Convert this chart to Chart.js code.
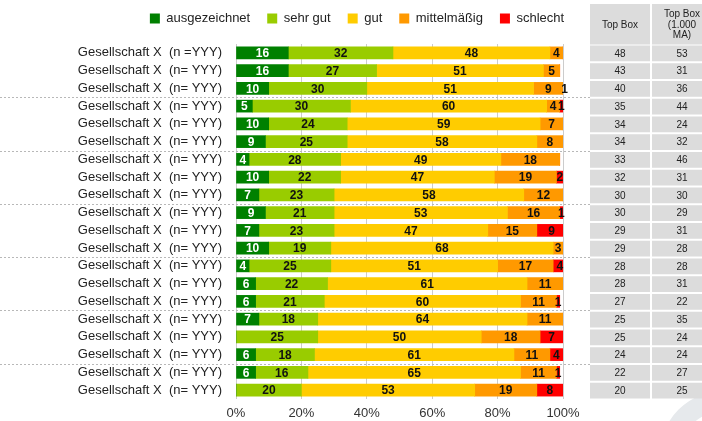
<!DOCTYPE html>
<html>
<head>
<meta charset="utf-8">
<script src="https://cdn.jsdelivr.net/npm/chart.js@4"></script>
<style>
  body { margin: 0; background: #fff; }
  #wrap { width: 702px; height: 421px; }
</style>
</head>
<body>
<div id="wrap"><canvas id="myChart"></canvas></div>
<script>
// Data
const categories = [
  "Gesellschaft X  (n =YYY)", "Gesellschaft X  (n= YYY)", "Gesellschaft X  (n= YYY)",
  "Gesellschaft X  (n= YYY)", "Gesellschaft X  (n= YYY)", "Gesellschaft X  (n= YYY)",
  "Gesellschaft X  (n= YYY)", "Gesellschaft X  (n= YYY)", "Gesellschaft X  (n= YYY)",
  "Gesellschaft X  (n= YYY)", "Gesellschaft X  (n= YYY)", "Gesellschaft X  (n= YYY)",
  "Gesellschaft X  (n= YYY)", "Gesellschaft X  (n= YYY)", "Gesellschaft X  (n= YYY)",
  "Gesellschaft X  (n= YYY)", "Gesellschaft X  (n= YYY)", "Gesellschaft X  (n= YYY)",
  "Gesellschaft X  (n= YYY)", "Gesellschaft X  (n= YYY)"
];
const seriesNames = ["ausgezeichnet", "sehr gut", "gut", "mittelmäßig", "schlecht"];
const ausgezeichnet = [16, 16, 10, 5, 10, 9, 4, 10, 7, 9, 7, 10, 4, 6, 6, 7, 0, 6, 6, 0];
const sehrGut = [32, 27, 30, 30, 24, 25, 28, 22, 23, 21, 23, 19, 25, 22, 21, 18, 25, 18, 16, 20];
const gut = [48, 51, 51, 60, 59, 58, 49, 47, 58, 53, 47, 68, 51, 61, 60, 64, 50, 61, 65, 53];
const mittelmaessig = [4, 5, 9, 4, 7, 8, 18, 19, 12, 16, 15, 3, 17, 11, 11, 11, 18, 11, 11, 19];
const schlecht = [0, 0, 1, 1, 0, 0, 0, 2, 0, 1, 9, 0, 4, 0, 1, 0, 7, 4, 1, 8];
const topBox = [48, 43, 40, 35, 34, 34, 33, 32, 30, 30, 29, 29, 28, 28, 27, 25, 25, 24, 22, 20];
const topBoxMA = [53, 31, 36, 44, 24, 32, 46, 31, 30, 29, 31, 28, 28, 31, 22, 35, 24, 24, 27, 25];
const tableHeaders = [["Top Box"], ["Top Box", "(1.000", "MA)"]];
const groupBreaks = [2, 5, 8, 11, 14, 17]; // dotted line below these rows

const colors = ["#008000", "#99cc00", "#ffcc00", "#ff9900", "#ff0000"];
const FONT = "'Liberation Sans', Arial, Helvetica, sans-serif";

const seriesValues = [ausgezeichnet, sehrGut, gut, mittelmaessig, schlecht];

// labels inside the bars
const barLabels = {
  id: "barLabels",
  afterDatasetsDraw(chart) {
    const ctx = chart.ctx;
    ctx.save();
    ctx.font = "bold 12px " + FONT;
    ctx.textAlign = "center";
    ctx.textBaseline = "middle";
    chart.data.datasets.forEach((ds, i) => {
      chart.getDatasetMeta(i).data.forEach((bar, j) => {
        const v = ds.data[j];
        if (!v) return;
        ctx.fillStyle = i === 0 ? "#ffffff" : "#111111";
        ctx.fillText(v, (bar.x + bar.base) / 2, bar.y + 1);
      });
    });
    ctx.restore();
  }
};

// dotted separators, side table and watermark
const sideTable = {
  id: "sideTable",
  beforeDraw(chart) {
    const ctx = chart.ctx;
    ctx.save();
    ctx.strokeStyle = "#e6e9ec";
    ctx.lineWidth = 20;
    ctx.beginPath();
    ctx.arc(721, 452, 50, Math.PI, Math.PI * 1.5);
    ctx.stroke();
    ctx.restore();
  },
  beforeDatasetsDraw(chart) {
    const ctx = chart.ctx;
    const y = chart.scales.y;
    const half = (y.getPixelForValue(1) - y.getPixelForValue(0)) / 2;
    ctx.save();
    ctx.strokeStyle = "#b8b8b8";
    ctx.lineWidth = 1;
    ctx.setLineDash([2, 2]);
    groupBreaks.forEach(i => {
      const py = Math.round(y.getPixelForValue(i) + half) + 0.5;
      ctx.beginPath();
      ctx.moveTo(0, py);
      ctx.lineTo(592, py);
      ctx.stroke();
    });
    ctx.restore();
  },
  afterDraw(chart) {
    const ctx = chart.ctx;
    const y = chart.scales.y;
    const half = (y.getPixelForValue(1) - y.getPixelForValue(0)) / 2;
    const cols = [[590, 650, 620], [652, 712, 682]];
    const top = chart.chartArea.top;
    ctx.save();
    ctx.fillStyle = "#dcdcdc";
    cols.forEach(c => ctx.fillRect(c[0], 4, c[1] - c[0], top - 3.5));
    ctx.fillStyle = "#222";
    ctx.font = "10px " + FONT;
    ctx.textAlign = "center";
    ctx.textBaseline = "middle";
    tableHeaders.forEach((lines, k) => {
      const mid = (4 + top) / 2 + 1;
      lines.forEach((t, n) => {
        ctx.fillText(t, cols[k][2], mid + (n - (lines.length - 1) / 2) * 10.5);
      });
    });
    [topBox, topBoxMA].forEach((vals, k) => {
      vals.forEach((v, i) => {
        const cy = y.getPixelForValue(i);
        ctx.fillStyle = "#dcdcdc";
        ctx.fillRect(cols[k][0], cy - half + 1.5, cols[k][1] - cols[k][0], half * 2 - 2);
        ctx.fillStyle = "#222";
        ctx.fillText(v, cols[k][2], cy + 1);
      });
    });
    ctx.restore();
  }
};

// Configuration
const config = {
  type: "bar",
  data: {
    labels: categories,
    datasets: seriesNames.map((name, i) => ({
      label: name,
      data: seriesValues[i],
      backgroundColor: colors[i],
      borderWidth: 0,
      barThickness: 12
    }))
  },
  options: {
    indexAxis: "y",
    responsive: true,
    maintainAspectRatio: false,
    animation: false,
    layout: { padding: { left: 12, right: 0, top: -5, bottom: 0 } },
    plugins: {
      legend: {
        position: "top",
        labels: {
          boxWidth: 10,
          boxHeight: 10,
          padding: 17,
          color: "#222",
          font: { size: 13, family: FONT }
        }
      },
      tooltip: { enabled: false }
    },
    scales: {
      x: {
        stacked: true,
        min: 0,
        max: 100,
        ticks: {
          stepSize: 20,
          padding: 7,
          color: "#333",
          font: { size: 13, family: FONT },
          callback: v => v + "%"
        },
        grid: { color: "#cccccc", drawTicks: false },
        border: { display: false },
        afterFit: s => { s.height = 22; }
      },
      xTop: {
        type: "linear",
        position: "top",
        display: true,
        ticks: { display: false },
        grid: { display: false, drawTicks: false },
        border: { display: false },
        afterFit: s => { s.height = 9; }
      },
      y: {
        stacked: true,
        ticks: {
          padding: 14,
          autoSkip: false,
          color: "#222",
          font: { size: 13, family: FONT }
        },
        grid: { display: false, drawTicks: false },
        border: { display: false },
        afterFit: s => { s.width = 224; }
      },
      yR: {
        type: "category",
        position: "right",
        labels: categories,
        ticks: { display: false },
        grid: { display: false, drawTicks: false },
        border: { display: false },
        afterFit: s => { s.width = 139; }
      }
    }
  },
  plugins: [sideTable, barLabels]
};

// Create chart
const ctx = document.getElementById("myChart").getContext("2d");
const myChart = new Chart(ctx, config);
</script>
</body>
</html>
